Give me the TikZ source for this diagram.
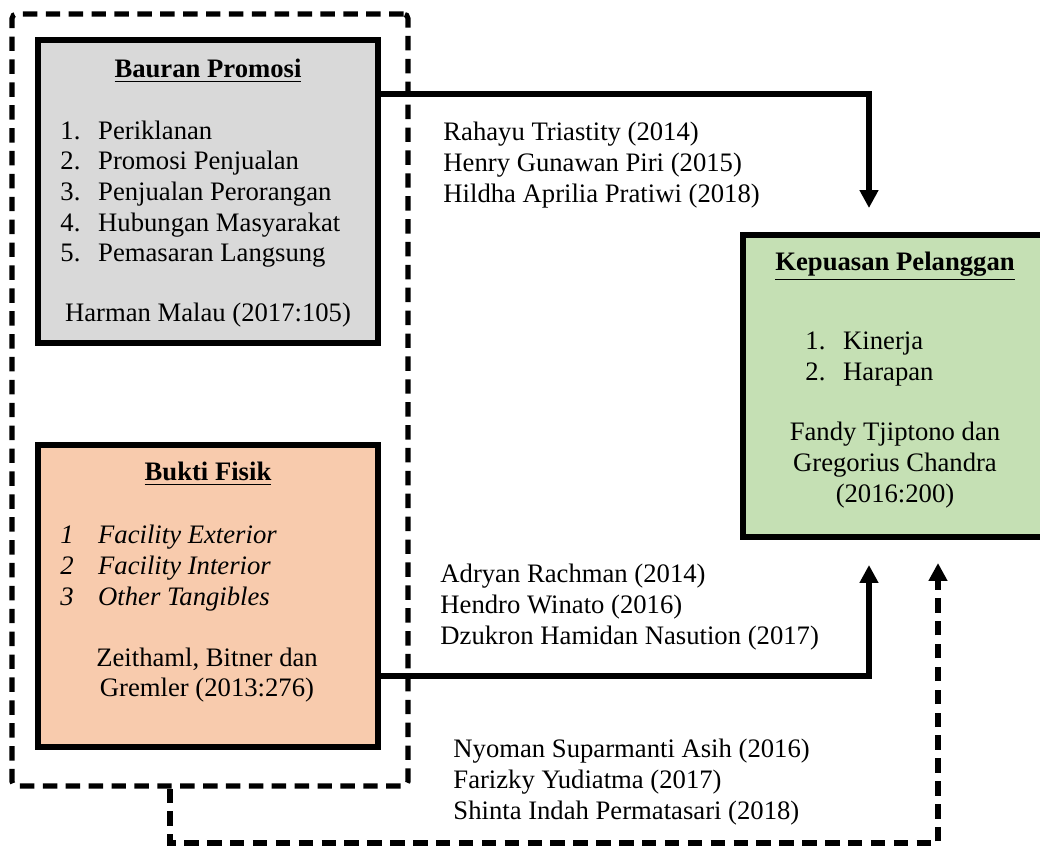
\documentclass[tikz,border=0pt]{standalone}
\usepackage{fontspec}
\setmainfont{Liberation Serif}
\usetikzlibrary{arrows.meta}

\definecolor{abu}{HTML}{D9D9D9}
\definecolor{jingga}{HTML}{F8CBAD}
\definecolor{hijau}{HTML}{C5E0B4}
\newcommand{\sat}{0.45pt}
\newcommand{\butir}[2]{\makebox[17pt][l]{#1}#2}
\newcommand{\judul}[1]{\underline{\textbf{#1}}}

\begin{document}
\begin{tikzpicture}[x=0.45pt,y=-0.45pt,
    kotak/.style={draw, line width=2.3pt, inner sep=0pt},
    teks/.style={inner sep=0pt, font=\fontsize{12}{13.8}\selectfont},
    panah/.style={line width=2.6pt, -{Triangle[width=8pt,length=8pt]}},
    putus/.style={line width=2.3pt, dash pattern=on 6.5pt off 3.8pt}]
    \useasboundingbox (0,0) rectangle (1040,846);
    \clip (0,0) rectangle (1040,846);

    % Kotak-kotak variabel
    \node[kotak, putus, rounded corners=2pt, minimum width=396*\sat, minimum height=772*\sat] (kelompok) at (210,400) {};
    \node[kotak, fill=abu, minimum width=340*\sat, minimum height=303*\sat] (bauran) at (208,191.5) {};
    \node[kotak, fill=jingga, minimum width=340*\sat, minimum height=302*\sat] (bukti) at (208,596) {};
    \node[kotak, fill=hijau, minimum width=304*\sat, minimum height=302*\sat] (kepuasan) at (895,386) {};

    % Isi kotak Bauran Promosi
    \node[teks] (judulX1) at (208,71) {\judul{Bauran Promosi}};
    \node[teks, anchor=west, align=left] (isiX1) at (60,194) {\butir{1.}{Periklanan}\\
        \butir{2.}{Promosi Penjualan}\\ \butir{3.}{Penjualan Perorangan}\\
        \butir{4.}{Hubungan Masyarakat}\\ \butir{5.}{Pemasaran Langsung}};
    \node[teks] (sumberX1) at (208,315) {Harman Malau (2017:105)};

    % Isi kotak Bukti Fisik
    \node[teks] (judulX2) at (208,474) {\judul{Bukti Fisik}};
    \node[teks, anchor=west, align=left, font=\fontsize{12}{13.8}\selectfont\itshape] (isiX2) at (60,568)
        {\butir{1}{Facility Exterior}\\ \butir{2}{Facility Interior}\\ \butir{3}{Other Tangibles}};
    \node[teks, align=center] (sumberX2) at (207,675) {Zeithaml, Bitner dan\\ Gremler (2013:276)};

    % Isi kotak Kepuasan Pelanggan
    \node[teks] (judulY) at (895,266) {\judul{Kepuasan Pelanggan}};
    \node[teks, anchor=west, align=left] (isiY) at (805,359) {\butir{1.}{Kinerja}\\ \butir{2.}{Harapan}};
    \node[teks, align=center] (sumberY) at (895,465) {Fandy Tjiptono dan\\ Gregorius Chandra\\ (2016:200)};

    % Penelitian terdahulu
    \node[teks, anchor=west, align=left] (rujukan1) at (443,165) {Rahayu Triastity (2014)\\
        Henry Gunawan Piri (2015)\\ Hildha Aprilia Pratiwi (2018)};
    \node[teks, anchor=west, align=left] (rujukan2) at (440,607) {Adryan Rachman (2014)\\
        Hendro Winato (2016)\\ Dzukron Hamidan Nasution (2017)};
    \node[teks, anchor=west, align=left] (rujukan3) at (453,782) {Nyoman Suparmanti Asih (2016)\\
        Farizky Yudiatma (2017)\\ Shinta Indah Permatasari (2018)};

    % Panah hubungan
    \coordinate (belok1) at (869,94);
    \coordinate (ujung1) at (869,208);
    \draw[panah] (bauran.east |- belok1) -- (belok1) -- (ujung1);
    \coordinate (belok2) at (869,676);
    \coordinate (ujung2) at (869,565);
    \draw[panah] (bukti.east |- belok2) -- (belok2) -- (ujung2);
    \coordinate (belok3) at (170,843);
    \coordinate (belok4) at (938,843);
    \coordinate (ujung3) at (938,563);
    \draw[putus, -{Triangle[width=8pt,length=8pt]}] (kelompok.south -| belok3) -- (belok3) -- (belok4) -- (ujung3);
\end{tikzpicture}
\end{document}
